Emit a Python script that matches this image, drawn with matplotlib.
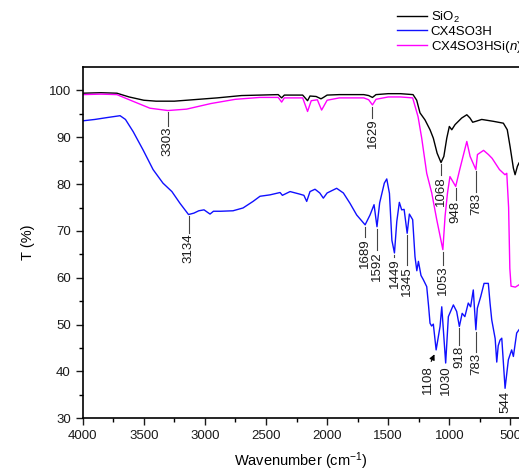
import numpy as np
import matplotlib
matplotlib.use("Agg")
import matplotlib.pyplot as plt

plt.rcParams['font.family'] = ['Liberation Sans', 'DejaVu Sans']
plt.rcParams['mathtext.fontset'] = 'custom'
plt.rcParams['mathtext.rm'] = 'Liberation Sans'
plt.rcParams['mathtext.it'] = 'Liberation Sans:italic'

# SiO2
sio2_wn = [4000, 3850, 3720, 3620, 3500, 3400, 3250, 3100, 2900, 2700, 2550, 2400, 2372, 2350,
           2200, 2160, 2140, 2090, 2050, 2030, 2000, 1900, 1700, 1660, 1629, 1600, 1500, 1400,
           1297, 1267, 1240, 1199, 1158, 1131, 1100, 1068, 1045, 1021, 1000, 980, 953, 899,
           857, 831, 809, 783, 735, 640, 558, 526, 503, 476, 462, 443, 430]
sio2_t = [99.4, 99.5, 99.4, 98.6, 97.9, 97.7, 97.7, 98.0, 98.4, 98.9, 99.0, 99.1, 98.4, 99.0,
          99.0, 97.8, 98.8, 98.7, 98.2, 98.5, 99.0, 99.1, 99.1, 98.9, 98.5, 99.1, 99.3, 99.3,
          99.1, 97.9, 95.2, 93.7, 91.6, 89.8, 86.6, 84.6, 85.9, 89.8, 92.3, 91.6, 92.7, 94.1,
          94.8, 94.1, 93.2, 93.4, 93.8, 93.4, 93.0, 91.6, 88.0, 83.4, 82.0, 83.8, 84.5]

# CX4SO3H
cx_wn = [4000, 3900, 3800, 3694, 3650, 3587, 3506, 3424, 3343, 3270, 3204, 3134, 3090, 3050,
         3007, 2980, 2958, 2930, 2870, 2770, 2688, 2606, 2549, 2467, 2385, 2366, 2303, 2230,
         2190, 2167, 2140, 2099, 2060, 2031, 2000, 1922, 1867, 1813, 1758, 1689, 1649, 1616,
         1592, 1570, 1532, 1512, 1490, 1470, 1449, 1430, 1409, 1390, 1370, 1345, 1327, 1300,
         1281, 1266, 1253, 1232, 1213, 1185, 1170, 1158, 1145, 1131, 1108, 1076, 1062, 1030,
         1008, 967, 940, 918, 895, 873, 845, 826, 804, 783, 771, 743, 716, 681, 667, 653,
         625, 612, 600, 585, 571, 544, 517, 490, 476, 449, 430]
cx_t = [93.5, 93.8, 94.2, 94.6, 93.8, 91.2, 87.3, 83.1, 80.2, 78.4, 75.9, 73.5, 73.8, 74.3,
        74.5, 74.0, 73.6, 74.2, 74.2, 74.3, 74.9, 76.3, 77.4, 77.7, 78.2, 77.6, 78.4, 77.9,
        77.6, 76.3, 78.4, 78.9, 78.1, 77.0, 78.1, 79.1, 78.1, 75.9, 73.4, 71.3, 73.4, 75.6,
        70.9, 76.0, 80.2, 81.1, 78.0, 68.0, 65.3, 72.0, 76.1, 74.5, 74.6, 69.5, 73.6, 72.4,
        64.5, 61.5, 63.5, 60.5, 59.6, 58.1, 54.0, 50.3, 49.7, 50.1, 44.6, 49.6, 53.8, 41.8,
        51.7, 54.2, 52.8, 49.6, 52.4, 51.7, 54.6, 53.8, 57.4, 48.9, 53.5, 56.0, 58.8, 58.8,
        54.6, 51.0, 47.0, 42.0, 45.5, 46.7, 47.1, 36.4, 42.5, 44.6, 43.2, 48.2, 48.9]

# CX4SO3HSi(n)
si_wn = [4000, 3850, 3720, 3600, 3450, 3303, 3150, 2950, 2750, 2550, 2400, 2372, 2350, 2200,
         2160, 2130, 2080, 2045, 2030, 2000, 1900, 1700, 1660, 1629, 1600, 1500, 1400, 1300,
         1256, 1226, 1185, 1144, 1103, 1053, 1035, 1015, 995, 948, 915, 857, 830, 783, 770,
         720, 680, 650, 590, 545, 530, 515, 505, 495, 460, 430]
si_t = [99.1, 99.2, 99.1, 97.8, 96.2, 95.7, 96.0, 97.2, 98.1, 98.5, 98.5, 97.5, 98.4, 98.4,
        95.5, 97.8, 98.0, 95.8, 96.5, 97.9, 98.4, 98.4, 98.0, 96.9, 98.1, 98.6, 98.6, 98.4,
        94.4, 89.8, 82.3, 78.1, 72.4, 66.0, 73.1, 78.1, 81.6, 79.5, 83.1, 89.1, 85.9, 83.1,
        86.3, 87.2, 86.3, 85.5, 83.1, 82.0, 82.3, 75.0, 62.0, 58.2, 58.0, 58.5]

# peak labels: (text, series)
peaks = [("3303", "si"), ("1629", "si"), ("1068", "sio2"), ("948", "si"), ("783", "si"),
         ("1053", "si"), ("3134", "cx"), ("1689", "cx"), ("1592", "cx"), ("1449", "cx"),
         ("1345", "cx"), ("1030", "cx"), ("918", "cx"), ("783", "cx"), ("544", "cx")]
# length of the leader line below each peak (T units)
leader = [2.8, 2.3, 2.3, 2.5, 4.3, 2.8, 3.5, 2.2, 4.6, 0.5, 6.4, 0.0, 3.6, 4.3, 0.0]

fig = plt.figure(figsize=(5.19, 4.72), dpi=100)
ax = fig.add_axes([0.1593, 0.1138, 0.8407, 0.7443])

series = {"sio2": (sio2_wn, sio2_t), "cx": (cx_wn, cx_t), "si": (si_wn, si_t)}
l1, = ax.plot(sio2_wn, sio2_t, color='black', lw=1.0)
l2, = ax.plot(cx_wn, cx_t, color='#1010ff', lw=1.0)
l3, = ax.plot(si_wn, si_t, color='#ff00ff', lw=1.0)

for (lab, s), L in zip(peaks, leader):
    wn, t = series[s]
    x = float(lab)
    y = np.interp(x, wn[::-1], t[::-1]) - 0.4
    if L > 0:
        ax.plot([x, x], [y, y - L], color='#444444', lw=0.8)
    ax.text(x, y - L - 0.2, lab, rotation=90, ha='center', va='top', fontsize=9.5,
            color='#1a1a1a')

# 1108 with arrow
ax.annotate("", xy=(1112, 44.2), xytext=(1158, 41.6),
            arrowprops=dict(arrowstyle='-|>', color='black', lw=0.8, mutation_scale=8))
ax.text(1172, 41.4, "1108", rotation=90, ha='center', va='top', fontsize=9.5, color='#1a1a1a')

ax.set_xlim(4000, 430)
ax.set_ylim(30, 105)
ax.set_xticks([4000, 3500, 3000, 2500, 2000, 1500, 1000, 500])
ax.set_xticks(np.arange(3750, 400, -500), minor=True)
ax.set_yticks(np.arange(30, 101, 10))
ax.set_yticks(np.arange(35, 101, 10), minor=True)
ax.tick_params(which='major', direction='out', length=5, width=1.0, labelsize=9.5,
               colors='#1a1a1a')
ax.tick_params(which='minor', direction='out', length=3, width=1.0)
for sp in ax.spines.values():
    sp.set_linewidth(1.2)
ax.spines['right'].set_visible(False)
ax.set_xlabel("Wavenumber (cm$^{-1}$)", fontsize=10.5, labelpad=6)
ax.set_ylabel("T (%)", fontsize=10.5, labelpad=10)

fig.legend([l1, l2, l3], ["SiO$_2$", "CX4SO3H", "CX4SO3HSi($n$)"], loc='upper left',
           bbox_to_anchor=(0.765, 0.979), frameon=False, fontsize=9.5, handlelength=2.3,
           handletextpad=0.25, labelspacing=0.05, borderpad=0, borderaxespad=0)

fig.savefig("out.png", dpi=100)
